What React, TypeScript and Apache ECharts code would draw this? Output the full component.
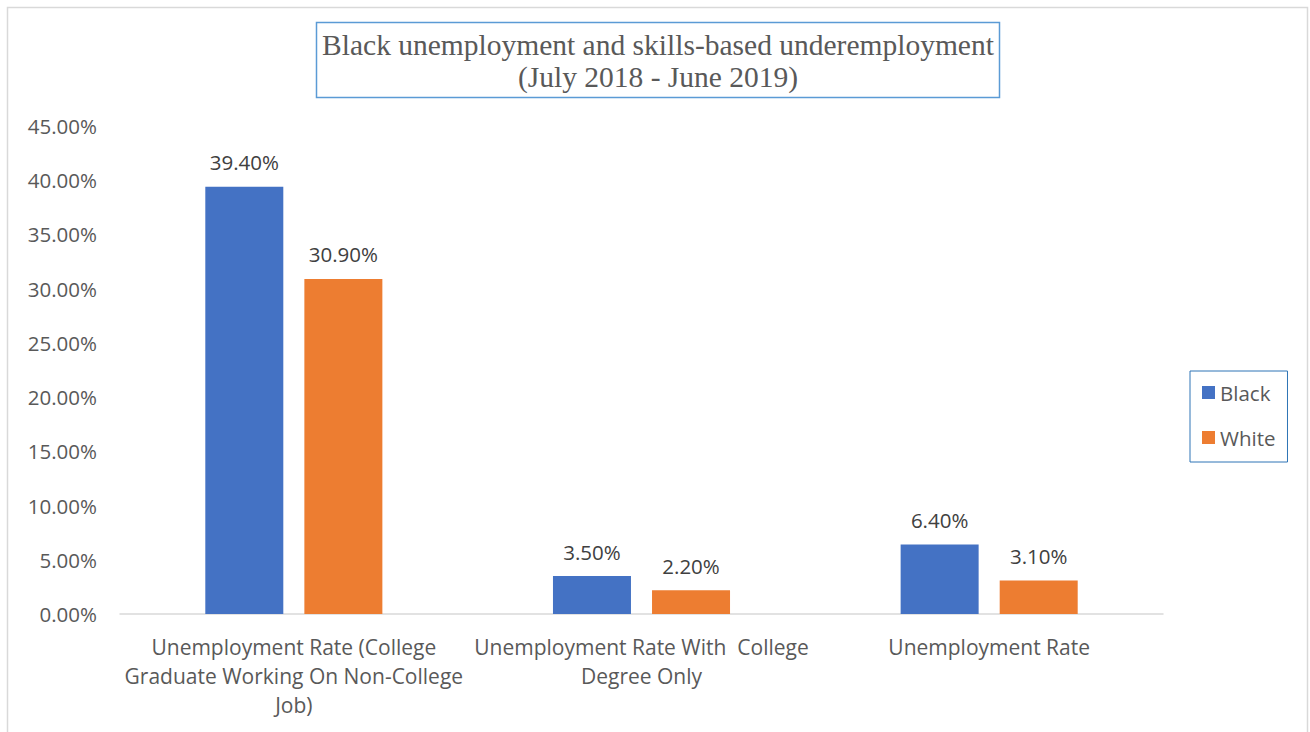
import React, { useEffect, useRef } from "react";
import * as echarts from "echarts";

const categories = [
  "Unemployment Rate (College\nGraduate Working On Non-College\nJob)",
  "Unemployment Rate With  College\nDegree Only",
  "Unemployment Rate",
];
const blackValues = [39.4, 3.5, 6.4];
const whiteValues = [30.9, 2.2, 3.1];
const titleLines = [
  "Black unemployment and skills-based underemployment",
  "(July 2018 - June 2019)",
];

export default function App() {
  const ref = useRef<HTMLDivElement>(null);
  useEffect(() => {
    if (!ref.current) return;
    const chart = echarts.init(ref.current, null, { renderer: "svg" });
    const labelFmt = (p: any) => Number(p.value).toFixed(2) + "%";
    chart.setOption({
      animation: false,
      backgroundColor: "#ffffff",
      textStyle: { fontFamily: "Open Sans" },
      grid: { left: 120, right: 147, top: 126, bottom: 118, containLabel: false },
      legend: {
        orient: "vertical",
        left: 1190,
        top: 371,
        padding: [11, 12, 14, 12],
        borderColor: "#2e75b6",
        borderWidth: 1,
        itemWidth: 13,
        itemHeight: 13,
        itemGap: 24,
        icon: "rect",
        textStyle: { fontSize: 20.5, color: "#595959", fontFamily: "Open Sans" },
        data: ["Black", "White"],
      },
      xAxis: {
        type: "category",
        data: categories,
        axisLine: { lineStyle: { color: "#d9d9d9", width: 1.5 } },
        axisTick: { show: false },
        axisLabel: {
          interval: 0,
          color: "#595959",
          fontSize: 21,
          lineHeight: 29,
          margin: 18,
          fontFamily: "Open Sans",
        },
      },
      yAxis: {
        type: "value",
        min: 0,
        max: 45,
        interval: 5,
        splitLine: { show: false },
        axisLine: { show: false },
        axisTick: { show: false },
        axisLabel: {
          color: "#595959",
          fontSize: 20.5,
          margin: 23,
          fontFamily: "Open Sans",
          formatter: (v: number) => v.toFixed(2) + "%",
        },
      },
      series: [
        {
          name: "Black",
          type: "bar",
          data: blackValues,
          barWidth: 78,
          barGap: "27%",
          itemStyle: { color: "#4472c4" },
          label: {
            show: true,
            position: "top",
            distance: 14,
            fontSize: 20.5,
            color: "#404040",
            fontFamily: "Open Sans",
            formatter: labelFmt,
          },
        },
        {
          name: "White",
          type: "bar",
          data: whiteValues,
          barWidth: 78,
          barGap: "27%",
          itemStyle: { color: "#ed7d31" },
          label: {
            show: true,
            position: "top",
            distance: 14,
            fontSize: 20.5,
            color: "#404040",
            fontFamily: "Open Sans",
            formatter: labelFmt,
          },
        },
      ],
      graphic: [
        {
          type: "rect",
          shape: { x: 7.5, y: 7.5, width: 1300, height: 740 },
          style: { fill: "none", stroke: "#d9d9d9", lineWidth: 1.5 },
          silent: true,
        },
        {
          type: "rect",
          shape: { x: 316.5, y: 22.5, width: 683, height: 75 },
          style: { fill: "none", stroke: "#5b9bd5", lineWidth: 1.5 },
          silent: true,
        },
        {
          type: "text",
          x: 658,
          y: 45,
          style: {
            text: titleLines[0],
            fill: "#595959",
            font: '29.5px "Liberation Serif", "Times New Roman", serif',
            textAlign: "center",
            textVerticalAlign: "middle",
          },
        },
        {
          type: "text",
          x: 658,
          y: 77,
          style: {
            text: titleLines[1],
            fill: "#595959",
            font: '29.5px "Liberation Serif", "Times New Roman", serif',
            textAlign: "center",
            textVerticalAlign: "middle",
          },
        },
      ],
    });
    return () => chart.dispose();
  }, []);
  return (
    <div
      ref={ref}
      style={{ position: "fixed", left: 0, top: 0, width: 1310, height: 732 }}
    />
  );
}
